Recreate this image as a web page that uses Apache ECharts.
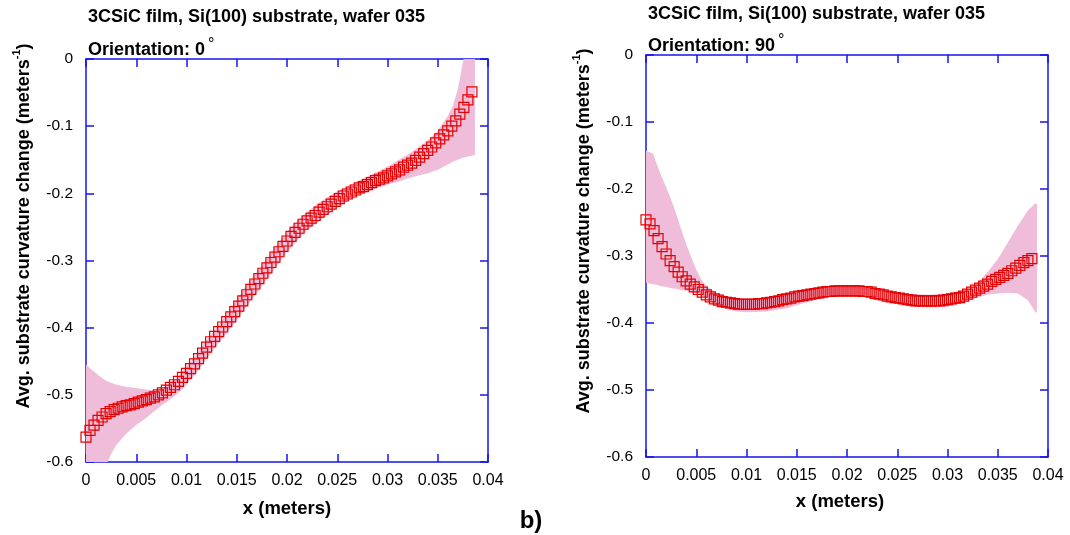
<!DOCTYPE html>
<html><head><meta charset="utf-8">
<script src="https://cdn.jsdelivr.net/npm/echarts@6/dist/echarts.min.js"></script>
<style>html,body{margin:0;padding:0;background:#fff}#c{width:1070px;height:535px}</style>
</head><body><div id="c"></div>
<script>
// ---- data ----
const xTicks = [0, 0.005, 0.01, 0.015, 0.02, 0.025, 0.03, 0.035, 0.04];
const yTicks = [-0.6, -0.5, -0.4, -0.3, -0.2, -0.1, 0];

const markerX = [0,0.0004,0.0008,0.0012,0.0016,0.002,0.0024,0.0028,0.0032,0.0036,
0.004,0.0044,0.0048,0.0052,0.0056,0.006,0.0064,0.0068,0.0072,0.0076,
0.008,0.0084,0.0088,0.0092,0.0096,0.01,0.0104,0.0108,0.0112,0.0116,
0.012,0.0124,0.0128,0.0132,0.0136,0.014,0.0144,0.0148,0.0152,0.0156,
0.016,0.0164,0.0168,0.0172,0.0176,0.018,0.0184,0.0188,0.0192,0.0196,
0.02,0.0204,0.0208,0.0212,0.0216,0.022,0.0224,0.0228,0.0232,0.0236,
0.024,0.0244,0.0248,0.0252,0.0256,0.026,0.0264,0.0268,0.0272,0.0276,
0.028,0.0284,0.0288,0.0292,0.0296,0.03,0.0304,0.0308,0.0312,0.0316,
0.032,0.0324,0.0328,0.0332,0.0336,0.034,0.0344,0.0348,0.0352,0.0356,
0.036,0.0364,0.0368,0.0372,0.0376,0.038,0.0384];

const curve0 = [-0.563,-0.553,-0.545,-0.538,-0.533,-0.528,-0.525,-0.522,-0.520,-0.518,
-0.516,-0.515,-0.513,-0.511,-0.509,-0.507,-0.505,-0.503,-0.500,-0.497,
-0.493,-0.489,-0.485,-0.480,-0.474,-0.468,-0.461,-0.454,-0.446,-0.438,
-0.429,-0.421,-0.413,-0.406,-0.399,-0.391,-0.384,-0.376,-0.368,-0.360,
-0.351,-0.343,-0.335,-0.327,-0.319,-0.311,-0.303,-0.295,-0.287,-0.279,
-0.271,-0.264,-0.258,-0.252,-0.246,-0.241,-0.237,-0.233,-0.228,-0.224,
-0.220,-0.216,-0.212,-0.208,-0.204,-0.201,-0.198,-0.195,-0.192,-0.190,
-0.187,-0.184,-0.181,-0.179,-0.177,-0.174,-0.171,-0.168,-0.165,-0.161,
-0.158,-0.155,-0.151,-0.146,-0.141,-0.136,-0.131,-0.125,-0.119,-0.113,
-0.107,-0.100,-0.092,-0.082,-0.072,-0.061,-0.049];

const curve90 = [-0.246,-0.252,-0.262,-0.274,-0.286,-0.297,-0.307,-0.316,-0.324,-0.331,
-0.337,-0.342,-0.346,-0.350,-0.354,-0.358,-0.361,-0.364,-0.366,-0.368,
-0.369,-0.370,-0.371,-0.372,-0.372,-0.372,-0.372,-0.372,-0.371,-0.371,
-0.370,-0.369,-0.368,-0.367,-0.365,-0.364,-0.363,-0.361,-0.360,-0.359,
-0.358,-0.357,-0.356,-0.355,-0.354,-0.353,-0.353,-0.352,-0.352,-0.352,
-0.352,-0.352,-0.352,-0.352,-0.353,-0.353,-0.354,-0.356,-0.357,-0.358,
-0.360,-0.361,-0.362,-0.363,-0.364,-0.365,-0.366,-0.367,-0.367,-0.367,
-0.367,-0.367,-0.367,-0.367,-0.366,-0.365,-0.364,-0.363,-0.362,-0.360,
-0.357,-0.354,-0.351,-0.348,-0.345,-0.342,-0.338,-0.335,-0.332,-0.329,
-0.326,-0.322,-0.318,-0.314,-0.310,-0.307,-0.304];

const band0X = [0,0.0005,0.001,0.0015,0.002,0.0025,0.003,0.004,0.005,0.006,
0.007,0.0075,0.008,0.009,0.01,0.011,0.012,0.013,0.014,0.015,
0.016,0.017,0.018,0.019,0.02,0.021,0.022,0.023,0.024,0.025,
0.026,0.027,0.028,0.029,0.03,0.031,0.032,0.033,0.034,0.035,
0.036,0.0365,0.037,0.0375,0.038,0.0387];
const band0Upper = [-0.455,-0.462,-0.468,-0.474,-0.479,-0.482,-0.485,-0.488,-0.490,-0.492,
-0.494,-0.493,-0.486,-0.476,-0.458,-0.440,-0.418,-0.400,-0.380,-0.358,
-0.337,-0.317,-0.297,-0.277,-0.258,-0.241,-0.228,-0.216,-0.206,-0.197,
-0.189,-0.182,-0.175,-0.168,-0.160,-0.151,-0.142,-0.132,-0.121,-0.107,
-0.085,-0.070,-0.045,-0.005,0.03,0.05];
const band0Lower = [-0.68,-0.66,-0.64,-0.62,-0.605,-0.588,-0.575,-0.558,-0.545,-0.534,
-0.522,-0.516,-0.511,-0.500,-0.485,-0.467,-0.446,-0.427,-0.408,-0.389,
-0.368,-0.348,-0.328,-0.307,-0.287,-0.270,-0.255,-0.244,-0.232,-0.221,
-0.212,-0.204,-0.198,-0.192,-0.187,-0.183,-0.178,-0.174,-0.170,-0.165,
-0.157,-0.153,-0.150,-0.147,-0.145,-0.143];

const band90X = [0,0.0007,0.001,0.0015,0.002,0.0025,0.003,0.0035,0.004,0.0045,
0.005,0.0055,0.006,0.007,0.008,0.009,0.01,0.012,0.014,0.016,
0.018,0.02,0.022,0.024,0.026,0.028,0.03,0.031,0.032,0.033,
0.034,0.035,0.036,0.037,0.038,0.0387,0.0389];
const band90Upper = [-0.143,-0.147,-0.160,-0.180,-0.197,-0.216,-0.237,-0.260,-0.282,-0.302,
-0.320,-0.335,-0.345,-0.355,-0.360,-0.362,-0.363,-0.362,-0.357,-0.350,
-0.346,-0.345,-0.346,-0.351,-0.356,-0.358,-0.356,-0.353,-0.350,-0.340,
-0.324,-0.305,-0.280,-0.255,-0.232,-0.222,-0.222];
const band90Lower = [-0.340,-0.342,-0.343,-0.345,-0.346,-0.348,-0.349,-0.351,-0.352,-0.354,
-0.356,-0.359,-0.363,-0.372,-0.379,-0.383,-0.384,-0.383,-0.378,-0.369,
-0.362,-0.359,-0.360,-0.367,-0.374,-0.377,-0.376,-0.372,-0.367,-0.362,
-0.358,-0.356,-0.355,-0.356,-0.366,-0.383,-0.385];

const titleText = '3CSiC film, Si(100) substrate, wafer 035';
const orientations = ['0', '90'];
const yName = 'Avg. substrate curvature change (meters';
const xName = 'x (meters)';

// ---- styling ----
const FONT = '"Liberation Sans", Arial, sans-serif';
const AXC = '#1515ee';
const BAND = '#efbcd9';
const MARK = '#e60000';

const chart = echarts.init(document.getElementById('c'), null, {renderer: 'canvas'});

function xAx(grid, pos, lbl) {
  return {type: 'value', gridIndex: grid, position: pos, min: xTicks[0], max: xTicks[xTicks.length-1],
    interval: xTicks[1] - xTicks[0],
    axisLine: {show: true, onZero: false, lineStyle: {color: AXC, width: 1.5}},
    axisTick: {show: true, inside: true, length: 8, lineStyle: {color: AXC, width: 1.5}},
    axisLabel: {show: lbl, color: '#000', fontSize: 16, fontFamily: FONT, margin: 11},
    splitLine: {show: false}};
}
function yAx(grid, pos, lbl) {
  return {type: 'value', gridIndex: grid, position: pos, min: yTicks[0], max: yTicks[yTicks.length-1],
    interval: 0.1,
    axisLine: {show: true, onZero: false, lineStyle: {color: AXC, width: 1.5}},
    axisTick: {show: true, inside: true, length: 8, lineStyle: {color: AXC, width: 1.5}},
    axisLabel: {show: lbl, color: '#000', fontSize: 15.5, fontFamily: FONT, margin: 13},
    splitLine: {show: false}};
}
function band(ai, bx, up, lo) {
  return {type: 'custom', xAxisIndex: ai, yAxisIndex: ai, silent: true, z: 1,
    data: [[bx[0], up[0]]],
    renderItem(params, api) {
      const pts = [];
      for (let i = 0; i < bx.length; i++) pts.push(api.coord([bx[i], up[i]]));
      for (let i = bx.length - 1; i >= 0; i--) pts.push(api.coord([bx[i], lo[i]]));
      const cs = params.coordSys;
      return {type: 'polygon', shape: {points: pts}, style: {fill: BAND},
        clipPath: {type: 'rect', shape: {x: cs.x, y: cs.y, width: cs.width, height: cs.height}}};
    }};
}
function marks(ai, ys) {
  return {type: 'scatter', xAxisIndex: ai, yAxisIndex: ai, silent: true, z: 3, clip: false,
    data: markerX.map((x, i) => [x, ys[i]]),
    symbol: 'rect', symbolSize: 10,
    itemStyle: {color: 'rgba(255,255,255,0)', borderColor: MARK, borderWidth: 1.2, opacity: 1}};
}
function txt(x, y, text, size, align) {
  return {type: 'text', x: x, y: y, silent: true,
    style: {text: text, fontSize: size, fontWeight: 'bold', fontFamily: FONT, fill: '#000',
      align: align || 'left', verticalAlign: 'middle'}};
}
function yNameEl(x, y) {
  return {type: 'text', x: x, y: y, rotation: Math.PI / 2, silent: true,
    style: {text: '{n|' + yName + '}{s|-1}{n|)}', align: 'center', verticalAlign: 'middle',
      fontFamily: FONT, fill: '#000',
      rich: {n: {fontSize: 18, fontWeight: 'bold', fontFamily: FONT, lineHeight: 22, verticalAlign: 'bottom'},
             s: {fontSize: 11, fontWeight: 'bold', fontFamily: FONT, lineHeight: 22, verticalAlign: 'top'}}}};
}
function orientEl(x, y, deg) {
  return {type: 'text', x: x, y: y, silent: true,
    style: {text: '{b|Orientation: ' + deg + '}{d|°}', align: 'left', verticalAlign: 'middle', fill: '#000',
      rich: {b: {fontSize: 18, fontWeight: 'bold', fontFamily: FONT, lineHeight: 22, verticalAlign: 'bottom'},
             d: {fontSize: 16, fontWeight: 'normal', fontFamily: FONT, lineHeight: 22, verticalAlign: 'top', padding: [0, 0, 0, 3]}}}};
}

chart.setOption({
  animation: false,
  backgroundColor: '#fff',
  grid: [
    {left: 86, top: 59, width: 402, height: 403, containLabel: false, outerBoundsMode: 'none'},
    {left: 646, top: 55, width: 402, height: 402, containLabel: false, outerBoundsMode: 'none'}
  ],
  xAxis: [xAx(0, 'bottom', true), xAx(0, 'top', false), xAx(1, 'bottom', true), xAx(1, 'top', false)],
  yAxis: [yAx(0, 'left', true), yAx(0, 'right', false), yAx(1, 'left', true), yAx(1, 'right', false)],
  series: [
    band(0, band0X, band0Upper, band0Lower),
    marks(0, curve0),
    band(2, band90X, band90Upper, band90Lower),
    marks(2, curve90)
  ],
  graphic: [
    txt(88, 17, titleText, 18),
    orientEl(88, 48, orientations[0]),
    txt(648, 14, titleText, 18),
    orientEl(648, 44, orientations[1]),
    yNameEl(22, 226),
    yNameEl(582, 231),
    txt(287, 509, xName, 18.5, 'center'),
    txt(840, 502, xName, 18.5, 'center'),
    txt(531, 521, 'b)', 24, 'center')
  ]
});
</script>
</body></html>
